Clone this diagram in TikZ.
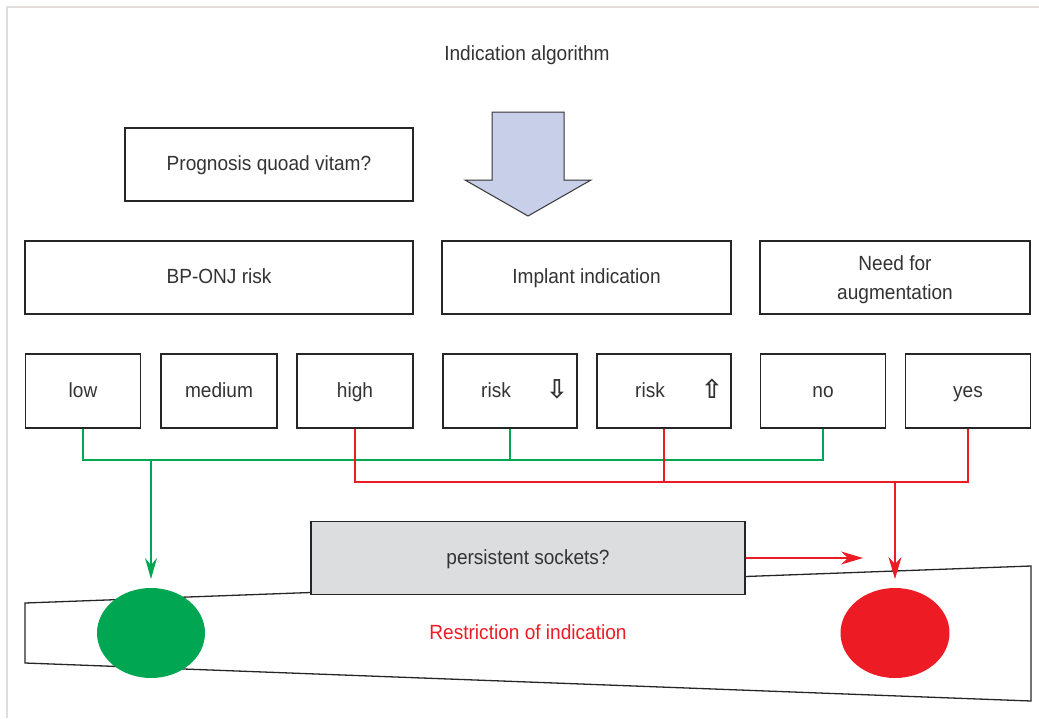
\documentclass[tikz,border=0pt]{standalone}
\usepackage{fontspec}
\setmainfont[FakeStretch=0.93]{Liberation Sans}
\newfontfamily\symfont{DejaVu Sans}
\usetikzlibrary{arrows.meta}
\definecolor{txt}{HTML}{333333}
\definecolor{gr}{HTML}{00A651}
\definecolor{rd}{HTML}{ED1C24}
\definecolor{grayfill}{HTML}{DCDDDF}
\definecolor{arrowfill}{HTML}{C8CFE8}
\definecolor{framecol}{HTML}{E2DDD8}
\tikzset{
  box/.style={draw=black!85, line width=1.3pt, fill=white, inner sep=0pt, text=txt,
     font=\fontsize{20.5}{29}\selectfont, text height=16pt, text depth=4pt},
  lbl/.style={inner sep=0pt, text=txt, font=\fontsize{20.5}{29}\selectfont, text height=16pt, text depth=4pt},
  gline/.style={gr, line width=1.2pt},
  rline/.style={rd, line width=1.2pt},
  garrow/.style={gline, -{Stealth[length=21pt,width=12pt,inset=7pt]}},
  rarrow/.style={rline, -{Stealth[length=22pt,width=13pt,inset=7pt]}},
}
\begin{document}
\begin{tikzpicture}[x=1pt,y=-1pt]
\useasboundingbox (0,0) rectangle (1039,718);
% frame
\draw[framecol, line width=1.5pt] (7,718) -- (7,7) -- (1039,7);
% title
\node[lbl] (title) at (527,54) {Indication algorithm};
% big arrow
\draw[draw=black!80, fill=arrowfill, line width=1pt]
  (492,112) -- (564,112) -- (564,180) -- (591,180) -- (528,216) -- (465,180) -- (492,180) -- cycle;
% boxes
\node[box, minimum width=288pt, minimum height=73pt] (prog) at (269,164.5) {Prognosis quoad vitam?};
\node[box, minimum width=388pt, minimum height=73pt] (bponj) at (219,277.5) {BP-ONJ risk};
\node[box, minimum width=289pt, minimum height=73pt] (impl) at (586.5,277.5) {Implant indication};
\node[box, minimum width=270pt, minimum height=73pt] (aug) at (895,277.5) {};
\node[lbl] (augt1) at (895,264) {Need for};
\node[lbl] (augt2) at (895,293) {augmentation};
\node[box, minimum width=115pt, minimum height=74pt] (low) at (83,391) {low};
\node[box, minimum width=116pt, minimum height=74pt] (medium) at (219,391) {medium};
\node[box, minimum width=116pt, minimum height=74pt] (high) at (355,391) {high};
\node[box, minimum width=134pt, minimum height=74pt] (riskd) at (510,391) {};
\node[box, minimum width=134pt, minimum height=74pt] (risku) at (664,391) {};
\node[box, minimum width=125pt, minimum height=74pt] (no) at (823,391) {no};
\node[box, minimum width=125pt, minimum height=74pt] (yes) at (968,391) {yes};
\node[lbl] (riskdt) at (496,391) {risk};
\node[lbl] (riskut) at (650,391) {risk};
\node[lbl, text height=, text depth=, font=\symfont\bfseries\fontsize{26}{26}\selectfont] (darr) at (557,389) {⇩};
\node[lbl, text height=, text depth=, font=\symfont\bfseries\fontsize{26}{26}\selectfont] (uarr) at (712,389) {⇧};
% trapezoid
\draw[black!85, line width=1.3pt] (25,603) -- (1031,566) -- (1031,701) -- (25,663) -- cycle;
% ellipses
\fill[gr] (151,633) ellipse [x radius=54, y radius=45];
\node[inner sep=0pt, minimum width=108pt, minimum height=90pt] (gell) at (151,633) {};
\fill[rd] (895,633) ellipse [x radius=54.5, y radius=45];
\node[inner sep=0pt, minimum width=109pt, minimum height=90pt] (rell) at (895,633) {};
\node[lbl, text=rd] (restr) at (528,633) {Restriction of indication};
% gray box
\node[box, fill=grayfill, minimum width=434pt, minimum height=73pt] (gray) at (528,558) {persistent sockets?};
% connectors
\coordinate (gbus) at (0,460);
\coordinate (rbus) at (0,482);
\draw[gline] (low.south) -- (low.south |- gbus) -| (no.south);
\draw[gline] (riskd.south) -- (riskd.south |- gbus);
\coordinate (gstart) at (151,460);
\coordinate (gtip) at (151,579);
\draw[garrow] (gstart) -- (gtip);
\draw[rline] (high.south) -- (high.south |- rbus) -| (yes.south);
\draw[rline] (risku.south) -- (risku.south |- rbus);
\coordinate (rstart) at (895,482);
\coordinate (rtip) at (895,579);
\draw[rarrow] (rstart) -- (rtip);
\coordinate (rhtip) at (863,558);
\draw[rarrow] (gray.east) -- (rhtip);
\end{tikzpicture}
\end{document}
